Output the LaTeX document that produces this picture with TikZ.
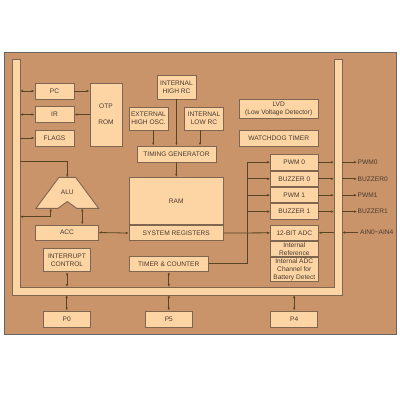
\documentclass[tikz,border=0pt]{standalone}
\usepackage{fontspec}
\setmainfont{Liberation Sans}
\usepackage{xcolor}
\usetikzlibrary{positioning, arrows.meta}

\definecolor{chipbg}{HTML}{C9946A}
\definecolor{blockfill}{HTML}{FDD4A4}
\definecolor{blockline}{HTML}{7E6650}
\definecolor{wire}{HTML}{574523}
\definecolor{labeltext}{HTML}{4A3A2E}

\tikzset{
  blk/.style={draw=blockline, fill=blockfill, line width=0.9pt, inner sep=0pt,
    align=center, text=labeltext, font=\fontsize{6.6}{7.6}\selectfont},
  lbl/.style={inner sep=0.5pt, text=labeltext, font=\fontsize{6.6}{7.6}\selectfont},
  link/.style={draw=wire, line width=0.8pt, -{Latex[length=3pt,width=2.4pt]}},
  dlink/.style={link, {Latex[length=3pt,width=2.4pt]}-{Latex[length=3pt,width=2.4pt]}},
}

\begin{document}
\begin{tikzpicture}[x=1pt, y=-1pt]
  \useasboundingbox (0,0) rectangle (400,400);

  % chip outline
  \draw[fill=chipbg, draw=gray!80!black, line width=0.9pt] (4,52) rectangle (396,334);

  % internal bus (U shape)
  \draw[fill=blockfill, draw=blockline, line width=0.8pt]
    (12,59.5) -- (12,295) -- (342,295) -- (342,59.5) -- (334,59.5)
    -- (334,287) -- (20,287) -- (20,59.5) -- cycle;
  \coordinate (busL) at (20,0);
  \coordinate (busR) at (334,0);
  \coordinate (busRo) at (342,0);
  \coordinate (busB) at (0,287);
  \coordinate (busBo) at (0,295);

  %---- CPU ----
  \node[blk, minimum width=39pt, minimum height=16pt] (pc) at (54.5,91) {PC};
  \node[blk, minimum width=39pt, minimum height=16pt] (ir) at (54.5,114.5) {IR};
  \node[blk, minimum width=39pt, minimum height=16pt] (flags) at (54.5,138) {FLAGS};
  \node[blk, minimum width=32pt, minimum height=63pt] (rom) at (106,114.5) {OTP\\[8.5pt]ROM};

  % ALU
  \draw[draw=blockline, fill=blockfill, line width=0.9pt]
    (36,208.3) -- (59,177.3) -- (75.6,177.3) -- (98.6,208.3) -- (76.6,208.3)
    -- (67.3,201.5) -- (58,208.3) -- cycle;
  \node[lbl] (alu) at (67.3,192) {ALU};
  \coordinate (aluT) at (67.3,177.3);
  \coordinate (aluIn) at (50.7,208.3);
  \coordinate (aluOut) at (82.3,208.3);
  \coordinate (aluTap) at (20,161.7);

  \node[blk, minimum width=62.6pt, minimum height=15pt] (acc) at (67,232.5) {ACC};
  \node[blk, minimum width=47.4pt, minimum height=23.4pt] (intc) at (67,260) {INTERRUPT\\CONTROL};

  %---- clocks and memory ----
  \node[blk, minimum width=39pt, minimum height=24pt] (ihrc) at (176.5,87) {INTERNAL\\HIGH RC};
  \node[blk, minimum width=39pt, minimum height=23pt] (ehosc) at (148.5,118.5) {EXTERNAL\\HIGH OSC.};
  \node[blk, minimum width=39pt, minimum height=23pt] (ilrc) at (204,118.5) {INTERNAL\\LOW RC};
  \node[blk, minimum width=79pt, minimum height=16pt] (tg) at (176.5,154) {TIMING GENERATOR};
  \node[blk, minimum width=94pt, minimum height=47pt] (ram) at (176.3,200.8) {RAM};
  \node[blk, minimum width=94pt, minimum height=15.7pt, below=0pt of ram] (sysreg) {SYSTEM REGISTERS};
  \node[blk, minimum width=79pt, minimum height=15.7pt] (timer) at (168.8,263.8) {TIMER \& COUNTER};

  %---- peripherals ----
  \node[blk, minimum width=78.7pt, minimum height=19pt] (lvd) at (278.7,108.8) {LVD\\(Low Voltage Detector)};
  \node[blk, minimum width=78.7pt, minimum height=16pt] (wdt) at (278.7,138) {WATCHDOG TIMER};
  \node[blk, minimum width=47.3pt, minimum height=15.7pt] (pwm0) at (294.3,162.2) {PWM 0};
  \node[blk, minimum width=47.3pt, minimum height=15.7pt, below=0pt of pwm0] (buz0) {BUZZER 0};
  \node[blk, minimum width=47.3pt, minimum height=15.3pt, below=0pt of buz0] (pwm1) {PWM 1};
  \node[blk, minimum width=47.3pt, minimum height=15.7pt, below=0pt of pwm1] (buz1) {BUZZER 1};
  \node[blk, minimum width=47.3pt, minimum height=15.7pt] (adc) at (294.3,232.8) {12-BIT ADC};
  \node[blk, minimum width=47.3pt, minimum height=15.3pt, below=0pt of adc] (iref) {Internal\\Reference};
  \node[blk, minimum width=47.3pt, minimum height=24pt, below=0pt of iref] (ibat) {Internal ADC\\Channel for\\Battery Detect};

  % ports
  \node[blk, minimum width=47pt, minimum height=16pt] (p0) at (66.7,319) {P0};
  \node[blk, minimum width=47pt, minimum height=16pt] (p5) at (168.8,319) {P5};
  \node[blk, minimum width=47pt, minimum height=16pt] (p4) at (294.2,319) {P4};

  %---- connections ----
  \draw[dlink] (busL |- pc.west) -- (pc.west);
  \draw[link] (pc.east) -- (pc.east -| rom.west);
  \draw[dlink] (busL |- ir.west) -- (ir.west);
  \draw[link] (ir.east -| rom.west) -- (ir.east);
  \draw[link] (busL |- flags.west) -- (flags.west);

  \draw[link] (aluTap) -| (aluT);
  \draw[dlink] (aluIn) |- (busL |- 0,216.7);
  \draw[dlink] (aluOut) -- (aluOut |- acc.north);
  \draw[dlink] (acc.east) -- (sysreg.west);
  \draw[link] (sysreg.east) -- (adc.west);

  \draw[link] (ihrc.south) -- (ihrc.south |- tg.north);
  \draw[link] ([xshift=4.8pt]ehosc.south) -- ([xshift=4.8pt]ehosc.south |- tg.north);
  \draw[link] ([xshift=-4pt]ilrc.south) -- ([xshift=-4pt]ilrc.south |- tg.north);
  \draw[link] (tg.south) -- (ram.north);

  % timer to pwm / buzzer
  \coordinate (tap) at (247,0);
  \draw[link] (timer.east) -| (tap |- pwm0.west) -- (pwm0.west);
  \foreach \b in {buz0, pwm1, buz1}{
    \draw[link] (tap |- \b.west) -- (\b.west);
  }

  % outputs through the bus
  \foreach \b/\t in {pwm0/PWM0, buz0/BUZZER0, pwm1/PWM1, buz1/BUZZER1}{
    \node[lbl, anchor=west] (o\b) at (357,0 |- \b.east) {\t};
    \draw[link] (\b.east) -- (busR |- \b.east);
    \draw[link] (busRo |- \b.east) -- (o\b.west);
  }
  \node[lbl, anchor=west] (ain) at (359.5,232.5) {AIN0\textasciitilde AIN4};
  \draw[link] ([xshift=-1.5pt]ain.west) -- (busRo |- ain.west);
  \draw[link] (busR |- adc.east) -- (adc.east);

  % bottom bus links
  \draw[dlink] (intc.south) -- (intc.south |- busB);
  \draw[dlink] (timer.south) -- (timer.south |- busB);
  \foreach \p in {p0, p5, p4}{
    \draw[dlink] (\p.north |- busBo) -- (\p.north);
  }
\end{tikzpicture}
\end{document}
